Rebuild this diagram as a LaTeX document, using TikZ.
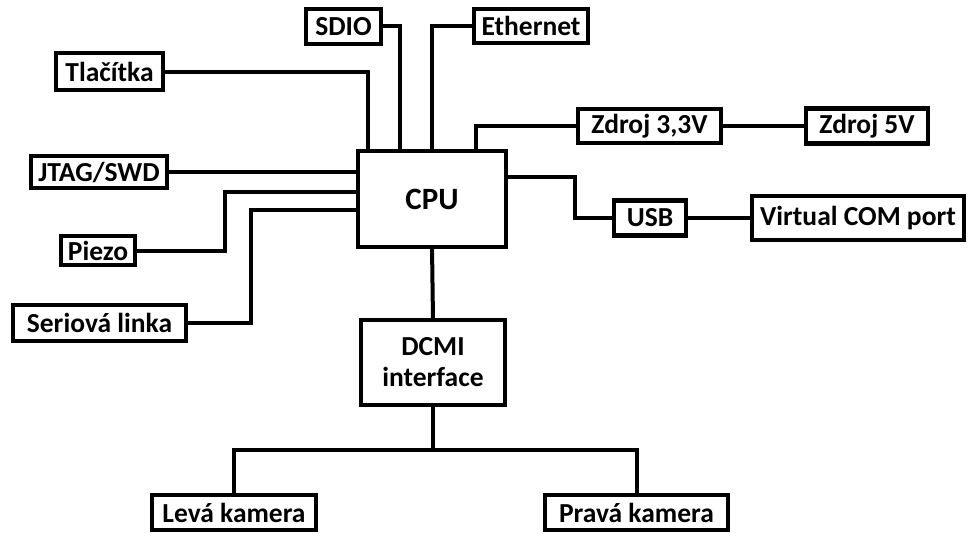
\documentclass[tikz,border=0pt]{standalone}
\usepackage{fontspec}
\setmainfont{Carlito}
\usetikzlibrary{positioning}
\tikzset{
  blok/.style={draw, line width=4.5pt, inner sep=0pt, outer sep=0pt, align=center,
    font=\bfseries\fontsize{27.5}{31}\selectfont},
  spoj/.style={line width=4pt, line join=miter}
}

\begin{document}
\begin{tikzpicture}[x=1pt,y=-1pt]
    \useasboundingbox (0,0) rectangle (968,535);

    \node[blok, minimum width=148, minimum height=96, font=\bfseries\fontsize{31}{34}\selectfont] (cpu) at (432,199) {CPU};
    \node[blok, minimum width=75, minimum height=35] (sdio) at (343.5,26.5) {SDIO};
    \node[blok, minimum width=114, minimum height=34] (eth) at (531,26) {Ethernet};
    \node[blok, minimum width=107, minimum height=37] (tlac) at (109.5,71.5) {Tlačítka};
    \node[blok, minimum width=136, minimum height=32] (jtag) at (99,172) {JTAG/SWD};
    \node[blok, minimum width=74, minimum height=29] (piezo) at (98,250.5) {Piezo};
    \node[blok, minimum width=173, minimum height=36] (serial) at (99.5,323) {Seriová linka};
    \node[blok, minimum width=143, minimum height=34] (zdroj33) at (649.5,126) {Zdroj 3,3V};
    \node[blok, minimum width=122, minimum height=35] (zdroj5) at (867,126) {Zdroj 5V};
    \node[blok, minimum width=72, minimum height=35] (usb) at (650,218) {USB};
    \node[blok, minimum width=212, minimum height=44] (vcp) at (858,218) {Virtual COM port};
    \node[blok, minimum width=144, minimum height=85] (dcmi) at (433,362.5) {DCMI\\interface};
    \node[blok, minimum width=164, minimum height=35] (leva) at (234,512.5) {Levá kamera};
    \node[blok, minimum width=183, minimum height=35] (prava) at (636.5,512.5) {Pravá kamera};

    % body na obvodu CPU
    \coordinate (cpuP) at ([yshift=-41pt]cpu.north west);
    \coordinate (cpuS) at ([yshift=-59pt]cpu.north west);
    \coordinate (cpuU) at ([yshift=-26pt]cpu.north east);

    \draw [spoj] (tlac.east) -| ([xshift=10pt]cpu.north west);
    \draw [spoj] (sdio.east) -| ([xshift=42pt]cpu.north west);
    \draw [spoj] (eth.west) -| (cpu.north);
    \draw [spoj] (zdroj33.west) -| ([xshift=-30pt]cpu.north east);
    \draw [spoj] (zdroj33.east) -- (zdroj5.west);
    \draw [spoj] (jtag.east) -- (jtag.east -| cpu.west);
    \draw [spoj] (piezo.east) -- ++(90,0) |- (cpuP);
    \draw [spoj] (serial.east) -- ++(65,0) |- (cpuS);
    \draw [spoj] (cpuU) -- ++(69,0) |- (usb.west);
    \draw [spoj] (usb.east) -- (vcp.west);
    \draw [spoj] (cpu.south) -- (dcmi.north);
    \draw [spoj] (dcmi.south) -- ++(0,45) -| (leva.north);
    \draw [spoj] (dcmi.south) -- ++(0,45) -| (prava.north);
\end{tikzpicture}
\end{document}
